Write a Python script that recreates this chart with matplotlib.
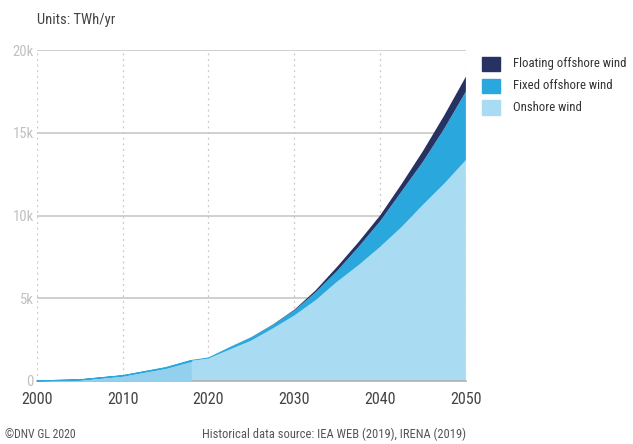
import matplotlib
matplotlib.use("Agg")

import matplotlib.pyplot as plt
import numpy as np
from matplotlib.patches import Rectangle

# Wind electricity production by type, thousand TWh/yr
years = [2000, 2005, 2010, 2015, 2018, 2020, 2022.5, 2025, 2027.5, 2030,
         2032.5, 2035, 2037.5, 2040, 2042.5, 2045, 2047.5, 2050]
onshore = [0.03, 0.095, 0.34, 0.80, 1.22, 1.35, 1.9, 2.44, 3.17, 3.95,
           4.88, 6.0, 7.0, 8.1, 9.3, 10.65, 11.94, 13.35]
fixed_offshore = [0.0, 0.005, 0.01, 0.03, 0.05, 0.07, 0.15, 0.2, 0.22, 0.3,
                  0.48, 0.65, 1.1, 1.55, 2.15, 2.6, 3.33, 4.15]
floating_offshore = [0.0, 0.0, 0.0, 0.0, 0.0, 0.0, 0.0, 0.01, 0.02, 0.05,
                     0.12, 0.25, 0.3, 0.35, 0.45, 0.65, 0.8, 0.9]
history_end = 2018

series_names = ["Floating offshore wind", "Fixed offshore wind", "Onshore wind"]
series_colors = ["#263262", "#2aa7dd", "#a9dcf2"]
history_color = "#92d0ee"

x_ticks = [2000, 2010, 2020, 2030, 2040, 2050]
y_ticks = [0, 5, 10, 15, 20]
y_labels = ["0", "5k", "10k", "15k", "20k"]

FONT = ["Liberation Sans Narrow", "DejaVu Sans Condensed", "Roboto Condensed",
        "Open Sans Condensed", "DejaVu Sans"]
plt.rcParams["font.family"] = FONT
plt.rcParams["font.stretch"] = "condensed"

fig = plt.figure(figsize=(6.33, 4.44), dpi=100)
ax = fig.add_axes([0.058, 0.142, 0.678, 0.745])

yrs = np.array(years, dtype=float)
on = np.array(onshore)
fx = np.array(fixed_offshore)
fl = np.array(floating_offshore)

ax.stackplot(yrs, on, fx, fl,
             colors=[series_colors[2], series_colors[1], series_colors[0]],
             linewidth=0, zorder=2)

# historical part is a touch darker
hist = yrs <= history_end
ax.fill_between(yrs[hist], 0, on[hist], color=history_color, lw=0, zorder=3)
ax.fill_between(yrs[hist], on[hist], on[hist] + fx[hist],
                color=series_colors[1], lw=0.8, ec=series_colors[1], zorder=3)

ax.set_xlim(2000, 2050)
ax.set_ylim(0, 20)
ax.set_xticks(x_ticks)
ax.set_yticks(y_ticks)
ax.set_yticklabels(y_labels)

for y in y_ticks[1:]:
    ax.axhline(y, color="#c8c8c8", lw=1.2, zorder=1)
for x in x_ticks:
    ax.axvline(x, color="#c8c8c8", lw=0.9, ls=(0, (1.5, 3)), zorder=1)

for s in ["top", "right", "left"]:
    ax.spines[s].set_visible(False)
ax.spines["bottom"].set_color("#b0b0b0")
ax.spines["bottom"].set_linewidth(1.2)
ax.tick_params(axis="both", length=0)
ax.tick_params(axis="y", labelsize=10.5, labelcolor="#c0c0c0", pad=2)
ax.tick_params(axis="x", labelsize=11.5, labelcolor="#444444", pad=8)

fig.text(0.058, 0.955, "Units: TWh/yr", fontsize=10.5, color="#444444",
         ha="left", va="center")
fig.text(0.008, 0.022, "\u00a9DNV GL 2020", fontsize=8.5, color="#555555",
         ha="left", va="center")
fig.text(0.736, 0.022, "Historical data source: IEA WEB (2019), IRENA (2019)",
         fontsize=9, color="#555555", ha="right", va="center")

# legend drawn by hand so the swatches sit like the original
for i, (name, col) in enumerate(zip(series_names, series_colors)):
    yc = 0.856 - i * 0.049
    fig.patches.append(Rectangle((0.762, yc - 0.016), 0.028, 0.032,
                                 transform=fig.transFigure, color=col))
    fig.text(0.810, yc, name, fontsize=9.2, color="#333333",
             ha="left", va="center")

fig.savefig("out.png", dpi=100)
